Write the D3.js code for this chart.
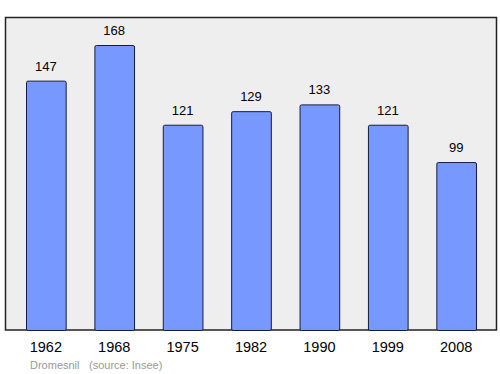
<!DOCTYPE html>
<html><head><meta charset="utf-8">
<script src="https://cdn.jsdelivr.net/npm/d3@7"></script>
<style>body{margin:0;background:#fff}svg{display:block}</style>
</head><body>
<script>
const years = ["1962","1968","1975","1982","1990","1999","2008"];
const population = [147,168,121,129,133,121,99];
const commune = "Dromesnil";
const source = "(source: Insee)";

const W = 500, H = 374;
const FONT = "Liberation Sans, Arial, sans-serif";
const svg = d3.select("body").append("svg").attr("width", W).attr("height", H);

svg.append("rect").attr("x", 5.5).attr("y", 17.5).attr("width", 491).attr("height", 312.5)
  .attr("fill", "#eeeeee").attr("stroke", "#222").attr("stroke-width", 1.5);

const x = d3.scaleBand().domain(years).range([26, 476]).paddingInner(0.42).paddingOuter(0);
const y = d3.scaleLinear().domain([0, 168]).range([330, 45]);

svg.selectAll("rect.bar").data(population).join("rect").attr("class", "bar")
  .attr("x", (d, i) => x(years[i]) + 0.5)
  .attr("y", d => y(d) + 0.5)
  .attr("width", x.bandwidth())
  .attr("height", d => 330 - y(d))
  .attr("rx", 1.5)
  .attr("fill", "#7799ff").attr("stroke", "#1a1a40").attr("stroke-width", 1);

svg.selectAll("text.val").data(population).join("text").attr("class", "val")
  .attr("x", (d, i) => x(years[i]) + x.bandwidth() / 2)
  .attr("y", d => y(d) - 10)
  .attr("text-anchor", "middle")
  .attr("font-family", FONT).attr("font-size", 13)
  .attr("fill", "#000").text(d => d);

const axis = d3.axisBottom(x).tickSize(0).tickPadding(0);
const g = svg.append("g").attr("transform", "translate(0,352)").call(axis);
g.select(".domain").remove();
g.selectAll("text").attr("dy", 0).attr("font-family", FONT).attr("font-size", 14.5).attr("fill", "#000");

svg.append("text").attr("x", 30).attr("y", 369).attr("font-family", FONT)
  .attr("font-size", 11).attr("fill", "#999").text(commune);
svg.append("text").attr("x", 89).attr("y", 369).attr("font-family", FONT)
  .attr("font-size", 11).attr("fill", "#999").text(source);
</script>
</body></html>
